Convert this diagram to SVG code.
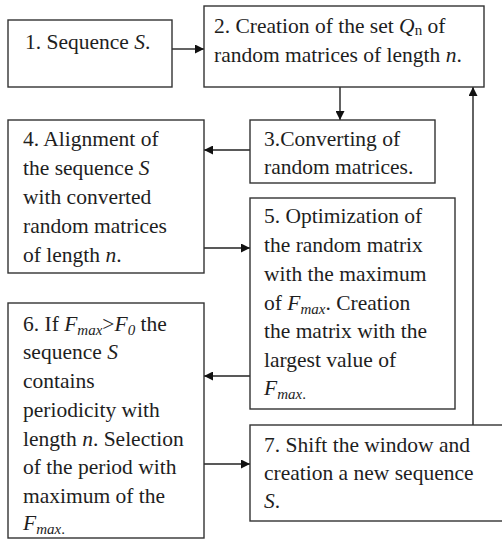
<svg xmlns="http://www.w3.org/2000/svg" width="502" height="550" viewBox="0 0 502 550">
<style>
  rect.box { fill: #ffffff; stroke: #333333; stroke-width: 1.4; }
  text { font-family: "Liberation Serif", "DejaVu Serif", serif; font-size: 21.5px; fill: #1e1e1e; }
  .i { font-style: italic; }
  .sub { font-style: italic; font-size: 15px; }
  line.c { stroke: #222222; stroke-width: 1.4; marker-end: url(#ah); }
</style>
<defs>
  <marker id="ah" viewBox="0 0 10 10" refX="10" refY="5" markerWidth="9" markerHeight="9" markerUnits="userSpaceOnUse" orient="auto">
    <path d="M0,0 L10,5 L0,10 z" fill="#111111"/>
  </marker>
</defs>
<rect width="502" height="550" fill="#ffffff"/>

<g id="connectors">
  <line class="c" x1="172" y1="49" x2="204" y2="49"/>
  <line class="c" x1="340" y1="87" x2="340" y2="120"/>
  <line class="c" x1="250" y1="150" x2="204" y2="150"/>
  <line class="c" x1="204" y1="248" x2="250" y2="248"/>
  <line class="c" x1="250" y1="376" x2="204" y2="376"/>
  <line class="c" x1="204" y1="464" x2="250" y2="464"/>
  <line class="c" x1="473" y1="425" x2="473" y2="87"/>
</g>

<g id="node1">
  <rect class="box" x="8" y="20" width="164" height="67"/>
  <text x="25" y="49">1. Sequence <tspan class="i">S</tspan>.</text>
</g>

<g id="node2">
  <rect class="box" x="204" y="6" width="280" height="81"/>
  <text x="214" y="33">2. Creation of the set <tspan class="i">Q</tspan><tspan font-size="15" dy="2">n</tspan><tspan dy="-2"> of</tspan></text>
  <text x="214" y="62">random matrices of length <tspan class="i">n</tspan>.</text>
</g>

<g id="node3">
  <rect class="box" x="250" y="120" width="185" height="63"/>
  <text x="264" y="146">3.Converting of</text>
  <text x="264" y="174">random matrices.</text>
</g>

<g id="node4">
  <rect class="box" x="8" y="120" width="196" height="153"/>
  <text x="23" y="146">4. Alignment of</text>
  <text x="23" y="175">the sequence <tspan class="i">S</tspan></text>
  <text x="23" y="204">with converted</text>
  <text x="23" y="233">random matrices</text>
  <text x="23" y="262">of length <tspan class="i">n</tspan>.</text>
</g>

<g id="node5">
  <rect class="box" x="250" y="198" width="205" height="211"/>
  <text x="264" y="223">5. Optimization of</text>
  <text x="264" y="252">the random matrix</text>
  <text x="264" y="281">with the maximum</text>
  <text x="264" y="310">of <tspan class="i">F</tspan><tspan class="sub" dy="4">max</tspan><tspan dy="-4">. Creation</tspan></text>
  <text x="264" y="338">the matrix with the</text>
  <text x="264" y="367">largest value of</text>
  <text x="264" y="395"><tspan class="i">F</tspan><tspan class="sub" dy="4">max</tspan><tspan font-size="15">.</tspan></text>
</g>

<g id="node6">
  <rect class="box" x="8" y="303" width="196" height="235"/>
  <text x="23" y="331">6. If <tspan class="i">F</tspan><tspan class="sub" dy="4">max</tspan><tspan dy="-4">&gt;</tspan><tspan class="i">F</tspan><tspan class="sub" dy="4">0</tspan><tspan dy="-4"> the</tspan></text>
  <text x="23" y="359">sequence <tspan class="i">S</tspan></text>
  <text x="23" y="388">contains</text>
  <text x="23" y="417">periodicity with</text>
  <text x="23" y="446">length <tspan class="i">n</tspan>. Selection</text>
  <text x="23" y="474">of the period with</text>
  <text x="23" y="503">maximum of the</text>
  <text x="23" y="530"><tspan class="i">F</tspan><tspan class="sub" dy="4">max</tspan><tspan font-size="15">.</tspan></text>
</g>

<g id="node7">
  <rect class="box" x="250" y="425" width="260" height="96"/>
  <text x="264" y="452">7. Shift the window and</text>
  <text x="264" y="480">creation a new sequence</text>
  <text x="264" y="508"><tspan class="i">S</tspan>.</text>
</g>
</svg>
